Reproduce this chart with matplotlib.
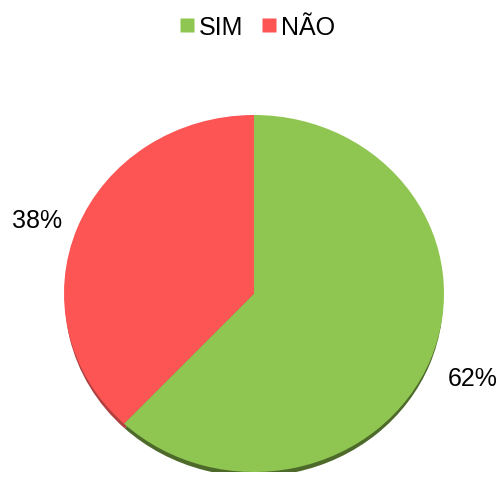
import matplotlib
matplotlib.use("Agg")
import matplotlib.pyplot as plt
from matplotlib.patches import Wedge
from matplotlib.lines import Line2D

categories = ["SIM", "NÃO"]
values = [62, 38]
labels = ["62%", "38%"]
colors = ["#8fc651", "#fd5454"]
shadow_colors = ["#4d6a2b", "#b04040"]

plt.rcParams['font.family'] = ['Liberation Sans', 'DejaVu Sans']

fig = plt.figure(figsize=(5.02, 4.85), dpi=100)
ax = fig.add_axes([64/502, 12/485, 380/502, 357/485])

# shadow (3D edge)
total = sum(values)
start = 90
for v, sc in zip(values, shadow_colors):
    ang = 360 * v / total
    w = Wedge((0, -0.03), 0.995, start - ang, start, facecolor=sc, edgecolor='none', zorder=1)
    ax.add_patch(w)
    start -= ang

wedges, _ = ax.pie(values, colors=colors, startangle=90, counterclock=False,
                   radius=1.0, wedgeprops=dict(edgecolor='none', zorder=2))
ax.set_aspect('auto')
ax.set_xlim(-1, 1)
ax.set_ylim(-1, 1)
ax.axis('off')

ax.text(1.153, -0.476, labels[0], fontsize=18, ha='center', va='center', clip_on=False)
ax.text(-1.142, 0.409, labels[1], fontsize=18, ha='center', va='center', clip_on=False)

handles = [Line2D([], [], marker='s', linestyle='none', markersize=10,
                  markerfacecolor=c, markeredgecolor='none') for c in colors]
fig.legend(handles, categories, loc='center', bbox_to_anchor=(0.51, 0.942), ncol=2,
           frameon=False, fontsize=18, handletextpad=0.1, columnspacing=0.6,
           handlelength=0.8)

fig.savefig("out.png", dpi=100)
